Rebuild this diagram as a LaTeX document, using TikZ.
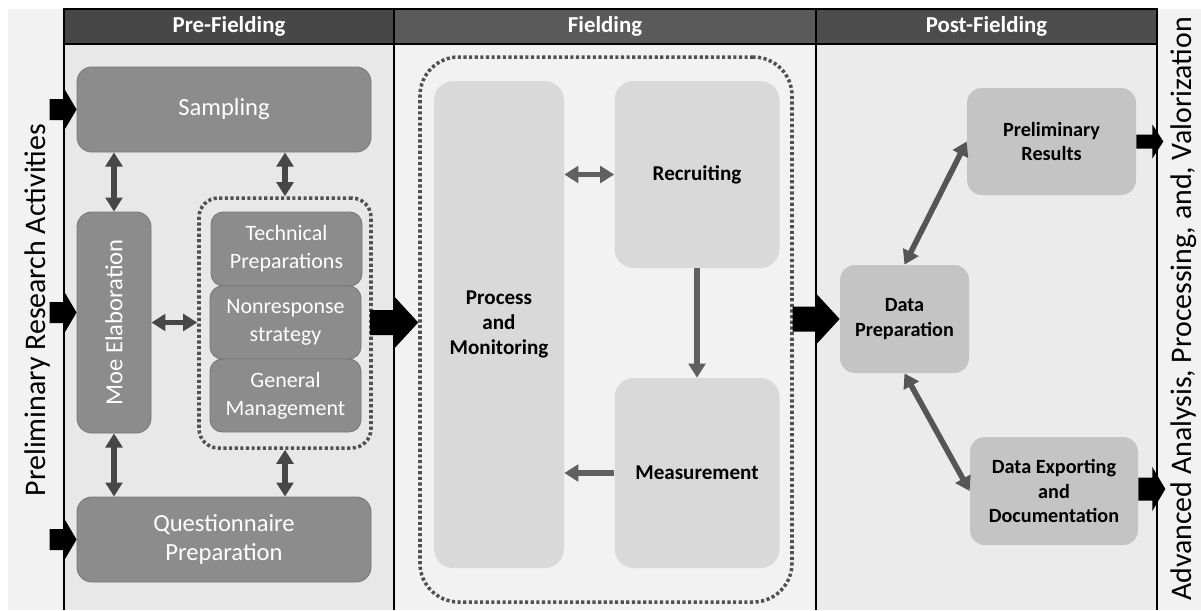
\documentclass[tikz,border=0pt]{standalone}
\usepackage{fontspec}
\setmainfont{Carlito}
\usetikzlibrary{arrows.meta,calc}

\newlength\pxl
\setlength\pxl{0.02cm}

\definecolor{bandgray}{HTML}{F2F2F2}
\definecolor{preback}{HTML}{E8E8E8}
\definecolor{fieldback}{HTML}{F2F2F2}
\definecolor{postback}{HTML}{EBEBEB}
\definecolor{hdrpre}{HTML}{474747}
\definecolor{hdrfield}{HTML}{5A5A5A}
\definecolor{hdrpost}{HTML}{4C4C4C}
\definecolor{prefill}{HTML}{8C8C8C}
\definecolor{preedge}{HTML}{787878}
\definecolor{fieldfill}{HTML}{D9D9D9}
\definecolor{postfill}{HTML}{C4C4C4}
\definecolor{dotgray}{HTML}{505050}
\definecolor{linkdark}{HTML}{474747}
\definecolor{linkmid}{HTML}{606060}
\definecolor{linkpost}{HTML}{555555}

% black block arrow: tip, total length, head length, shaft half width, head half width
\newcommand\blockarrow[5]{%
  \fill[black] (#1) -- ++(-#3,#5) -- ++(0,{#4-#5}) -- ++({#3-#2},0)
    -- ++(0,{-2*#4}) -- ++({#2-#3},0) -- ++(0,{#4-#5}) -- cycle;}

\begin{document}
\begin{tikzpicture}[x=0.02cm,y=-0.02cm,
  header/.style={draw=black, line width=0.6pt, text=white, inner sep=0,
    font=\bfseries\fontsize{13}{15}\selectfont},
  prebox/.style={draw=preedge, line width=0.5pt, fill=prefill, text=white,
    rounded corners=8.5pt, inner sep=0, align=center},
  bigtext/.style={font=\fontsize{14}{17}\selectfont},
  smalltext/.style={font=\fontsize{12.5}{16}\selectfont},
  fieldbox/.style={fill=fieldfill, rounded corners=11pt, inner sep=0, align=center,
    font=\bfseries\fontsize{12}{14}\selectfont},
  postbox/.style={fill=postfill, rounded corners=8.5pt, inner sep=0, align=center,
    font=\bfseries\fontsize{11.5}{13.8}\selectfont},
  grouping/.style={draw=dotgray, line width=2pt, dash pattern=on 1.8pt off 1.4pt},
  link/.style={draw=linkdark, line width=3.2pt, >={Triangle[length=8pt,width=9.5pt]}},
  flink/.style={link, draw=linkmid},
  plink/.style={link, draw=linkpost},
  sidetext/.style={rotate=90, font=\fontsize{17}{20}\selectfont},
  sep/.style={draw=black, line width=0.6pt}]
\useasboundingbox (0,0) rectangle (1201,610);

% side bands and phase columns
\fill[bandgray] (8,9) rectangle (64,610);
\fill[bandgray] (1157,9) rectangle (1201,610);
\fill[preback] (64,44) rectangle (394,610);
\fill[fieldback] (394,44) rectangle (816,610);
\fill[postback] (816,44) rectangle (1157,610);
\draw[sep] (64,9) -- (64,610);
\draw[sep] (394,9) -- (394,610);
\draw[sep] (816,9) -- (816,610);
\draw[sep] (1157,9) -- (1157,610);

% phase headers
\node[header, fill=hdrpre, minimum width=330*\pxl, minimum height=35*\pxl] (hpre) at (229,26.5) {Pre-Fielding};
\node[header, fill=hdrfield, minimum width=422*\pxl, minimum height=35*\pxl] (hfield) at (605,26.5) {Fielding};
\node[header, fill=hdrpost, minimum width=341*\pxl, minimum height=35*\pxl] (hpost) at (986.5,26.5) {Post-Fielding};

% side labels
\node[sidetext] (leftlabel) at (38,310) {Preliminary Research Activities};
\node[sidetext] (rightlabel) at (1184,309) {Advanced Analysis, Processing, and, Valorization};

% Pre-Fielding
\node[prebox, bigtext, minimum width=294*\pxl, minimum height=85*\pxl] (sampling) at (224,109.5) {Sampling};
\node[prebox, minimum width=74*\pxl, minimum height=221*\pxl] (moe) at (114,322.5) {};
\node[bigtext, text=white, rotate=90] (moetext) at (moe.center) {Moe Elaboration};
\node[grouping, rounded corners=11pt, minimum width=172*\pxl, minimum height=250*\pxl] (group) at (285,323) {};
\node[prebox, smalltext, rounded corners=7pt, minimum width=151*\pxl, minimum height=74*\pxl] (tech) at (286.5,249) {Technical\\Preparations};
\node[prebox, smalltext, rounded corners=7pt, minimum width=151*\pxl, minimum height=73*\pxl] (nonresp) at (285.5,322.5) {Nonresponse\\strategy};
\node[prebox, smalltext, rounded corners=7pt, minimum width=151*\pxl, minimum height=73*\pxl] (general) at (285.5,395.5) {General\\Management};
\node[prebox, bigtext, minimum width=294*\pxl, minimum height=85*\pxl] (quest) at (224,539.5) {Questionnaire\\Preparation};

\draw[link,<->] (sampling.south -| moe.north) -- (moe.north);
\draw[link,<->] (sampling.south -| group.north) -- (group.north);
\draw[link,<->] (moe.east) -- (moe.east -| group.west);
\draw[link,<->] (moe.south) -- (moe.south |- quest.north);
\draw[link,<->] (group.south) -- (group.south |- quest.north);

% Fielding
\node[grouping, rounded corners=22pt, minimum width=372*\pxl, minimum height=545*\pxl] (fieldgroup) at (606,329.5) {};
\node[fieldbox, minimum width=130*\pxl, minimum height=487*\pxl] (pm) at (499,324.5) {Process\\and\\Monitoring};
\node[fieldbox, minimum width=165*\pxl, minimum height=187*\pxl] (recruit) at (697,174.5) {Recruiting};
\node[fieldbox, minimum width=165*\pxl, minimum height=190*\pxl] (measure) at (697,473) {Measurement};

\draw[flink,<->] (recruit.west) -- (recruit.west -| pm.east);
\draw[flink,->] (recruit.south) -- (measure.north);
\draw[flink,->] (measure.west) -- (measure.west -| pm.east);

% Post-Fielding
\node[postbox, minimum width=169*\pxl, minimum height=107*\pxl] (prelim) at (1051.5,141.5) {Preliminary\\Results};
\node[postbox, minimum width=129*\pxl, minimum height=108*\pxl] (dataprep) at (904.5,319) {Data\\Preparation};
\node[postbox, minimum width=168*\pxl, minimum height=108*\pxl] (export) at (1054,491) {Data Exporting\\and\\Documentation};

\draw[plink,<->] (dataprep.north) -- (prelim.west);
\draw[plink,<->] (dataprep.south) -- (export.west);

% block arrows between phases
\blockarrow{sampling.west}{27}{13}{10.5}{22}
\blockarrow{$(moe.west)+(0,-10)$}{27}{13}{10.5}{22}
\blockarrow{quest.west}{27}{13}{10.5}{22}
\blockarrow{fieldgroup.west |- nonresp.east}{48}{24}{12.5}{26}
\blockarrow{dataprep.west}{47}{24}{12.5}{26}
\blockarrow{$(prelim.east)+(27,0)$}{27}{11}{7}{17}
\blockarrow{$(export.east)+(27,-2)$}{27}{13}{11.5}{22}
\end{tikzpicture}
\end{document}
